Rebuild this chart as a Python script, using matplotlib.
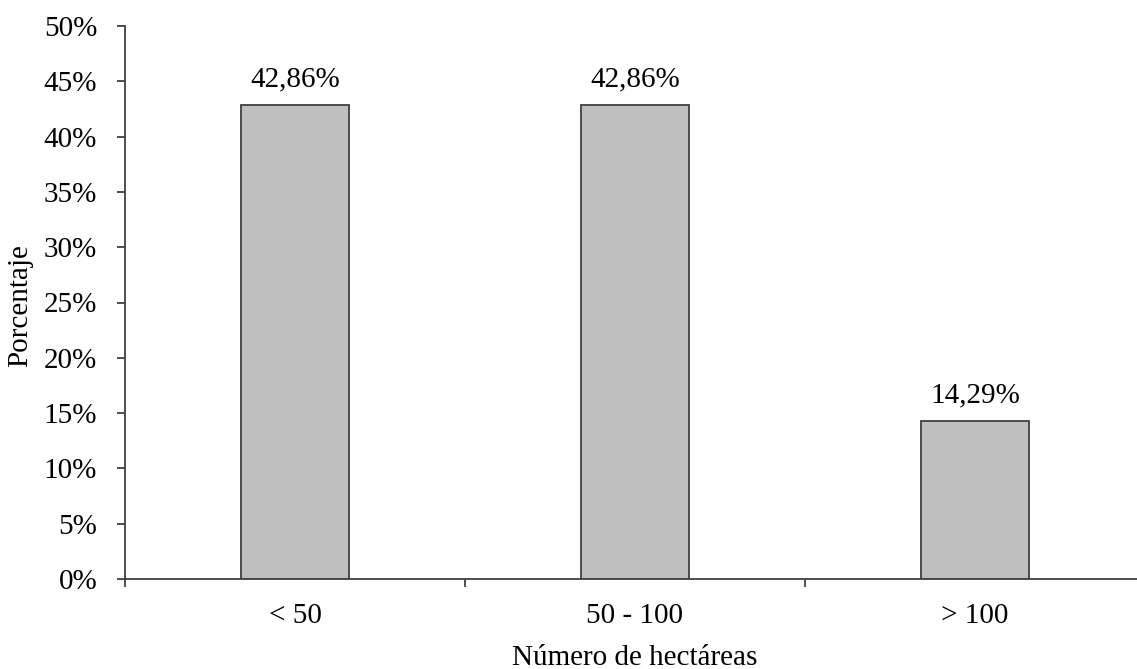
import numpy as np
import matplotlib
matplotlib.use('Agg')
import matplotlib.pyplot as plt
from matplotlib.ticker import FuncFormatter, FixedLocator

# data
categorias = ['< 50', '50 - 100', '> 100']
porcentajes = [42.86, 42.86, 14.29]
etiquetas = ['42,86%', '42,86%', '14,29%']

plt.rcParams['font.family'] = ['Liberation Serif', 'DejaVu Serif']

def plotGraph():
  fig = plt.figure(figsize=(11.37, 6.69), dpi=100)
  ax = fig.add_axes([125/1137., 90/669., 1020/1137., 553/669.])

  x = np.arange(len(categorias))
  ax.bar(x, porcentajes, width=0.315, color='#bfbfbf', edgecolor='#404040', linewidth=1.3, zorder=2)

  for xi, v, t in zip(x, porcentajes, etiquetas):
    ax.annotate(t, (xi, v), xytext=(0, 13.5), textcoords='offset points',
                ha='center', va='baseline', fontsize=21)

  ax.set_xlim(-0.5, 2.5)
  ax.set_ylim(0, 50)
  ax.set_yticks(np.arange(0, 51, 5))
  ax.yaxis.set_major_formatter(FuncFormatter(lambda v, p: '%d%%' % v))

  ax.set_xticks(x)
  ax.set_xticklabels(categorias)
  ax.xaxis.set_minor_locator(FixedLocator([-0.5, 0.5, 1.5, 2.5]))
  ax.tick_params(axis='x', which='major', length=0, pad=17, labelsize=21)
  ax.tick_params(axis='x', which='minor', length=6, width=1.3, color='#404040', direction='out')
  ax.tick_params(axis='y', length=6, width=1.3, color='#404040', direction='out', pad=14, labelsize=21)

  for s in ['top', 'right']:
    ax.spines[s].set_visible(False)
  for s in ['left', 'bottom']:
    ax.spines[s].set_color('#404040')
    ax.spines[s].set_linewidth(1.3)

  fig.text(20/1137., 1 - 306/669., 'Porcentaje', rotation=90, ha='center', va='center', fontsize=21)
  fig.text(635/1137., 1 - 658/669., 'Número de hectáreas', ha='center', va='center', fontsize=21)

  fig.savefig('out.png', dpi=100)

if __name__ == "__main__":
  plotGraph()
